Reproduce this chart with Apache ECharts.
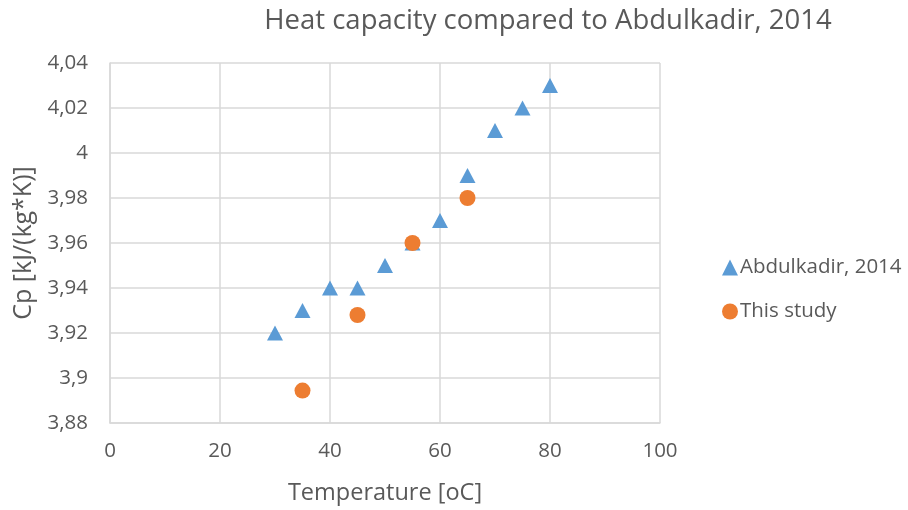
<!DOCTYPE html>
<html><head><meta charset="utf-8">
<script src="https://cdn.jsdelivr.net/npm/echarts@6/dist/echarts.min.js"></script>
<style>html,body{margin:0;padding:0;background:#fff}#c{width:908px;height:510px}</style>
</head><body><div id="c"></div>
<script>
const abdTemp = [30, 35, 40, 45, 50, 55, 60, 65, 70, 75, 80];
const abdCp = [3.92, 3.93, 3.94, 3.94, 3.95, 3.96, 3.97, 3.99, 4.01, 4.02, 4.03];
const studyTemp = [35, 45, 55, 65];
const studyCp = [3.8944, 3.9280, 3.9600, 3.9800];
const seriesNames = ['Abdulkadir, 2014', 'This study'];

const FONT = '"Open Sans", Lato, sans-serif';
const chart = echarts.init(document.getElementById('c'));
const fmt = v => String(+v.toFixed(2)).replace('.', ',');
chart.setOption({
  animation: false,
  backgroundColor: '#fff',
  title: {
    text: 'Heat capacity compared to Abdulkadir, 2014',
    left: 543, top: 2, textAlign: 'center',
    textStyle: { fontFamily: FONT, fontSize: 27.5, fontWeight: 'normal', color: '#595959' }
  },
  grid: { left: 110, right: 248, top: 63, bottom: 87 },
  legend: {
    orient: 'vertical', left: 717, top: 252, itemGap: 23,
    itemWidth: 16, itemHeight: 16,
    textStyle: { fontFamily: FONT, fontSize: 20.5, color: '#595959', padding: [0,0,0,-3] },
    data: [{name: seriesNames[0], icon: 'triangle'}, {name: seriesNames[1], icon: 'circle'}]
  },
  xAxis: {
    type: 'value', min: 0, max: 100, interval: 20,
    name: 'Temperature [oC]', nameLocation: 'middle', nameGap: 58,
    nameTextStyle: { fontFamily: FONT, fontSize: 23.5, color: '#595959' },
    axisLine: { show: true, lineStyle: { color: '#d9d9d9', width: 1.5 } },
    axisTick: { show: false },
    axisLabel: { fontFamily: FONT, fontSize: 20.5, color: '#595959', margin: 18 },
    splitLine: { show: true, lineStyle: { color: '#d9d9d9', width: 1.5 } }
  },
  yAxis: {
    type: 'value', min: 3.88, max: 4.04, interval: 0.02,
    name: 'Cp [kJ/(kg*K)]', nameLocation: 'middle', nameGap: 72, nameRotate: 90,
    nameTextStyle: { fontFamily: FONT, fontSize: 25, color: '#595959' },
    axisLine: { show: true, lineStyle: { color: '#d9d9d9', width: 1.5 } },
    axisTick: { show: false },
    axisLabel: { fontFamily: FONT, fontSize: 20.5, color: '#595959', margin: 22, formatter: fmt },
    splitLine: { show: true, lineStyle: { color: '#d9d9d9', width: 1.5 } }
  },
  series: [
    { name: seriesNames[0], type: 'scatter', symbol: 'triangle', symbolSize: [16, 15],
      itemStyle: { color: '#5b9bd5', opacity: 1 },
      data: abdTemp.map((t, i) => [t, abdCp[i]]) },
    { name: seriesNames[1], type: 'scatter', symbol: 'circle', symbolSize: 16,
      itemStyle: { color: '#ed7d31', opacity: 1 },
      data: studyTemp.map((t, i) => [t, studyCp[i]]) }
  ]
});
</script></body></html>
